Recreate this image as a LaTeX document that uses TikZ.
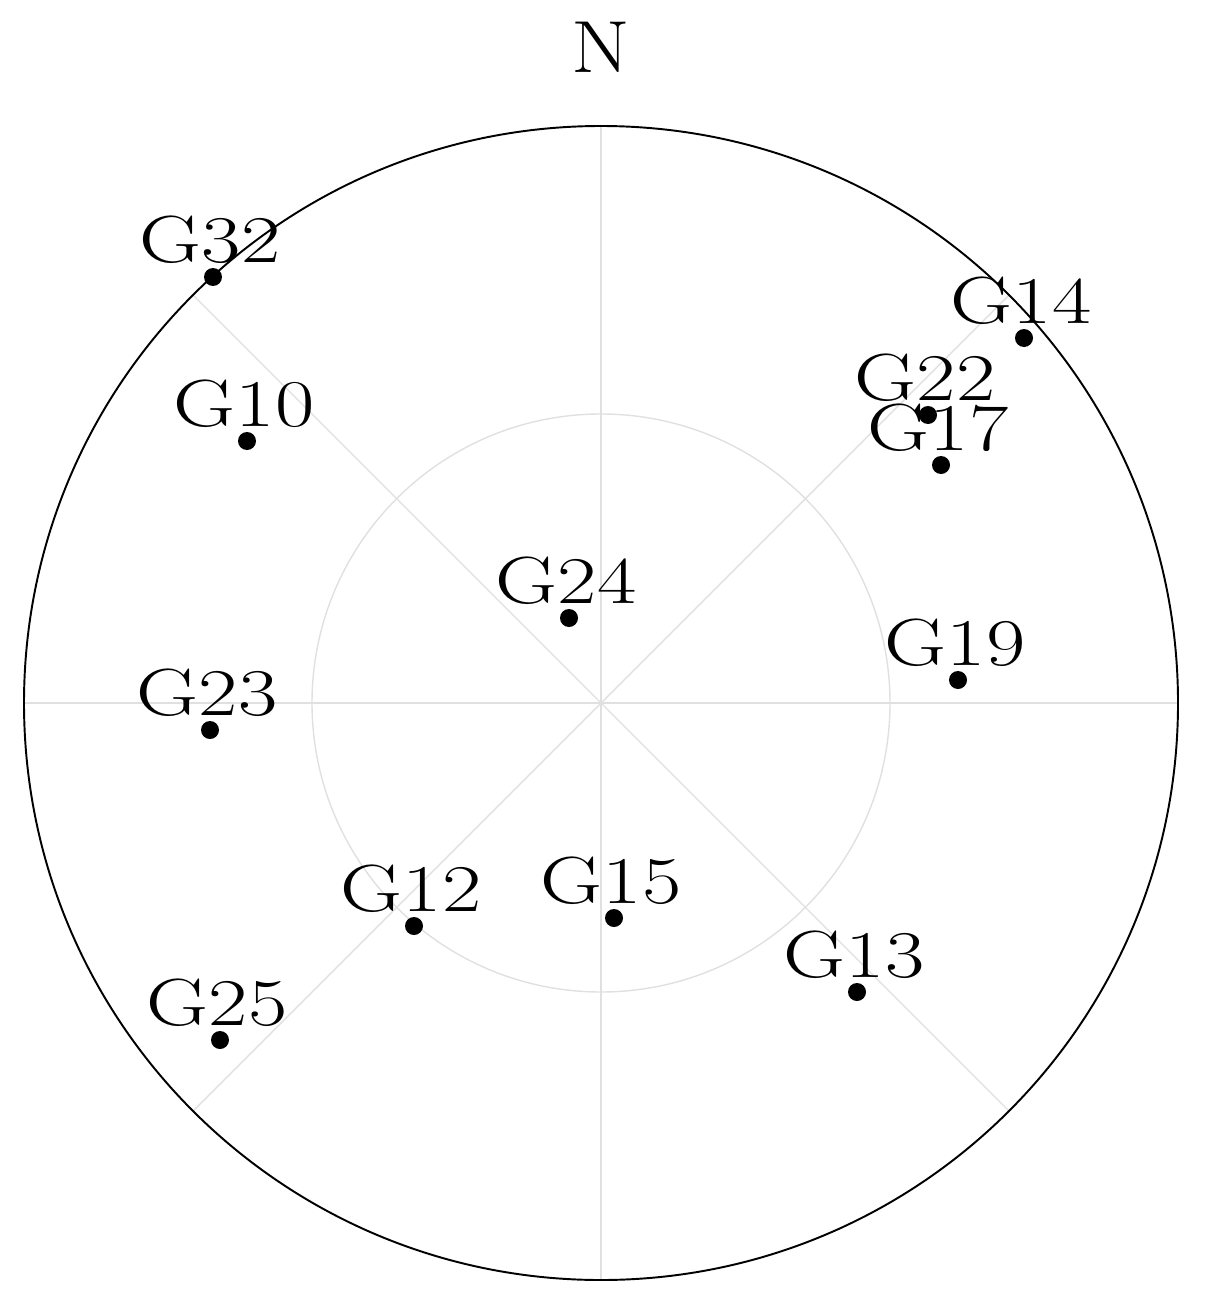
\documentclass[tikz,border=0pt]{standalone}
\begin{document}
\begin{tikzpicture}[x=0.02cm,y=-0.02cm,
  sat/.style={circle,fill=black,inner sep=0pt,minimum size=0.36cm},
  lab/.style={anchor=base,font=\fontsize{38}{40}\selectfont,inner sep=0pt,xscale=1.28},
  grid/.style={draw=black!12,line width=0.8pt}]
\useasboundingbox (0,0) rectangle (1209,1304);
\coordinate (c) at (601,703);
\foreach \a in {0,45,...,315} \draw[grid] (c) -- ++(\a:577);
\draw[grid] (c) circle[radius=289];
\draw[line width=1.1pt] (c) circle[radius=577];
\node[anchor=base,font=\fontsize{42}{44}\selectfont,inner sep=0pt,xscale=1.15] (N) at (601,73) {N};
\foreach \n/\x/\y in {G32/213/277,G10/247/441,G24/569/618,G23/210/730,G12/414/926,G15/614/918,G25/220/1040,G13/857/992,G19/958/680,G17/941/465,G22/928/415,G14/1024/338}{
  \node[sat] (\n) at (\x,\y) {};
  \node[lab] (L\n) at (\x-3,\y-15) {\n};
}
\end{tikzpicture}
\end{document}
